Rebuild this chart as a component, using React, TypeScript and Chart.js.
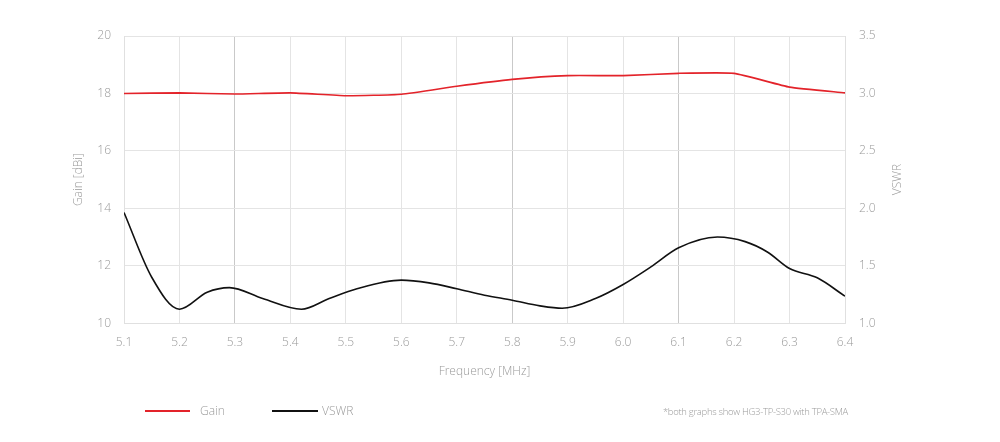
import React, { useEffect, useRef } from "react";
import { Chart, registerables } from "chart.js";

Chart.register(...registerables);

const xTicks = [5.1, 5.2, 5.3, 5.4, 5.5, 5.6, 5.7, 5.8, 5.9, 6.0, 6.1, 6.2, 6.3, 6.4];
const gainFreq = [5.1, 5.2, 5.3, 5.4, 5.5, 5.6, 5.7, 5.8, 5.9, 6.0, 6.1, 6.2, 6.3, 6.4];
const gainValues = [18.0, 18.02, 17.98, 18.02, 17.92, 17.97, 18.25, 18.49, 18.62, 18.62, 18.7, 18.7, 18.22, 18.02];
const vswrFreq = [5.1, 5.15, 5.2, 5.25, 5.29, 5.35, 5.42, 5.47, 5.52, 5.6, 5.65, 5.7, 5.75, 5.8, 5.85, 5.89, 5.95, 6.0, 6.05, 6.1, 6.17, 6.22, 6.26, 6.3, 6.35, 6.4];
const vswrValues = [1.964, 1.40, 1.122, 1.27, 1.31, 1.215, 1.122, 1.215, 1.30, 1.375, 1.351, 1.30, 1.244, 1.20, 1.151, 1.13, 1.215, 1.337, 1.49, 1.656, 1.75, 1.71, 1.62, 1.476, 1.395, 1.235];
const darkGridAt = [5.3, 5.8, 6.1];

const FONT = "'Open Sans', 'Noto Sans', sans-serif";
const TEXT = "#9a9a9a";

const rightTitle = {
  id: "rightTitle",
  afterDraw(chart: any) {
    const { ctx, chartArea } = chart;
    ctx.save();
    ctx.translate(898, (chartArea.top + chartArea.bottom) / 2);
    ctx.rotate(-Math.PI / 2);
    ctx.font = `300 12px ${FONT}`;
    ctx.fillStyle = TEXT;
    ctx.textAlign = "center";
    ctx.textBaseline = "middle";
    ctx.fillText("VSWR", 0, 0);
    ctx.restore();
  },
};

export default function App() {
  const ref = useRef<HTMLCanvasElement>(null);
  useEffect(() => {
    if (!ref.current) return;
    const chart = new Chart(ref.current, {
      type: "line",
      data: {
        datasets: [
          {
            label: "Gain",
            data: gainFreq.map((f, i) => ({ x: f, y: gainValues[i] })),
            borderColor: "#e3232a",
            borderWidth: 1.6,
            pointRadius: 0,
            tension: 0.15,
            yAxisID: "y",
          },
          {
            label: "VSWR",
            data: vswrFreq.map((f, i) => ({ x: f, y: vswrValues[i] })),
            borderColor: "#111111",
            borderWidth: 1.6,
            pointRadius: 0,
            cubicInterpolationMode: "monotone",
            yAxisID: "y2",
          },
        ],
      },
      options: {
        responsive: false,
        animation: false,
        devicePixelRatio: 1,
        layout: { padding: { left: 0, right: 0, top: 36, bottom: 63 } },
        plugins: { legend: { display: false }, tooltip: { enabled: false } },
        scales: {
          x: {
            type: "linear",
            min: 5.1,
            max: 6.4,
            afterBuildTicks: (s: any) => {
              s.ticks = xTicks.map((v) => ({ value: v }));
            },
            ticks: {
              callback: (v: any) => Number(v).toFixed(1),
              color: TEXT,
              font: { family: FONT, size: 12, weight: "300" },
              padding: 12,
              maxRotation: 0,
            },
            grid: {
              drawTicks: false,
              color: (c: any) =>
                c.tick && darkGridAt.some((d) => Math.abs(d - c.tick.value) < 1e-6) ? "#c9c9c9" : "#e4e4e4",
              lineWidth: 1,
            },
            border: { color: "#e0e0e0" },
            title: {
              display: true,
              text: "Frequency [MHz]",
              color: TEXT,
              font: { family: FONT, size: 12, weight: "300" },
              padding: { top: 3, bottom: 0 },
            },
          },
          y: {
            position: "left",
            min: 10,
            max: 20,
            afterFit: (s: any) => {
              s.width = 124;
            },
            ticks: {
              stepSize: 2,
              color: TEXT,
              font: { family: FONT, size: 12, weight: "300" },
              padding: 13,
            },
            grid: { drawTicks: false, color: "#e4e4e4" },
            border: { color: "#e0e0e0" },
            title: {
              display: true,
              text: "Gain [dBi]",
              color: TEXT,
              font: { family: FONT, size: 12, weight: "300" },
              padding: { top: 71, bottom: 0 },
            },
          },
          y2: {
            position: "right",
            min: 1.0,
            max: 3.5,
            afterFit: (s: any) => {
              s.width = 155;
            },
            ticks: {
              stepSize: 0.5,
              callback: (v: any) => Number(v).toFixed(1),
              color: TEXT,
              font: { family: FONT, size: 12, weight: "300" },
              padding: 14,
            },
            grid: { display: false, drawTicks: false },
            border: { color: "#e0e0e0" },
          },
        },
      },
      plugins: [rightTitle],
    } as any);
    return () => chart.destroy();
  }, []);

  const legendText: React.CSSProperties = {
    position: "absolute",
    fontFamily: FONT,
    fontWeight: 300,
    fontSize: 12,
    color: TEXT,
    lineHeight: "14px",
  };

  return (
    <div style={{ position: "absolute", left: 0, top: 0, width: 1000, height: 442, background: "#fff" }}>
      <canvas ref={ref} width={1000} height={442} style={{ display: "block" }} />
      <div style={{ position: "absolute", left: 145, top: 410, width: 45, height: 1.6, background: "#e3232a" }} />
      <div style={{ ...legendText, left: 200, top: 404 }}>Gain</div>
      <div style={{ position: "absolute", left: 272, top: 410, width: 46, height: 1.6, background: "#111" }} />
      <div style={{ ...legendText, left: 322, top: 404 }}>VSWR</div>
      <div style={{ ...legendText, fontSize: 9.5, right: 152, top: 405, letterSpacing: -0.3 }}>
        *both graphs show HG3-TP-S30 with TPA-SMA
      </div>
    </div>
  );
}
